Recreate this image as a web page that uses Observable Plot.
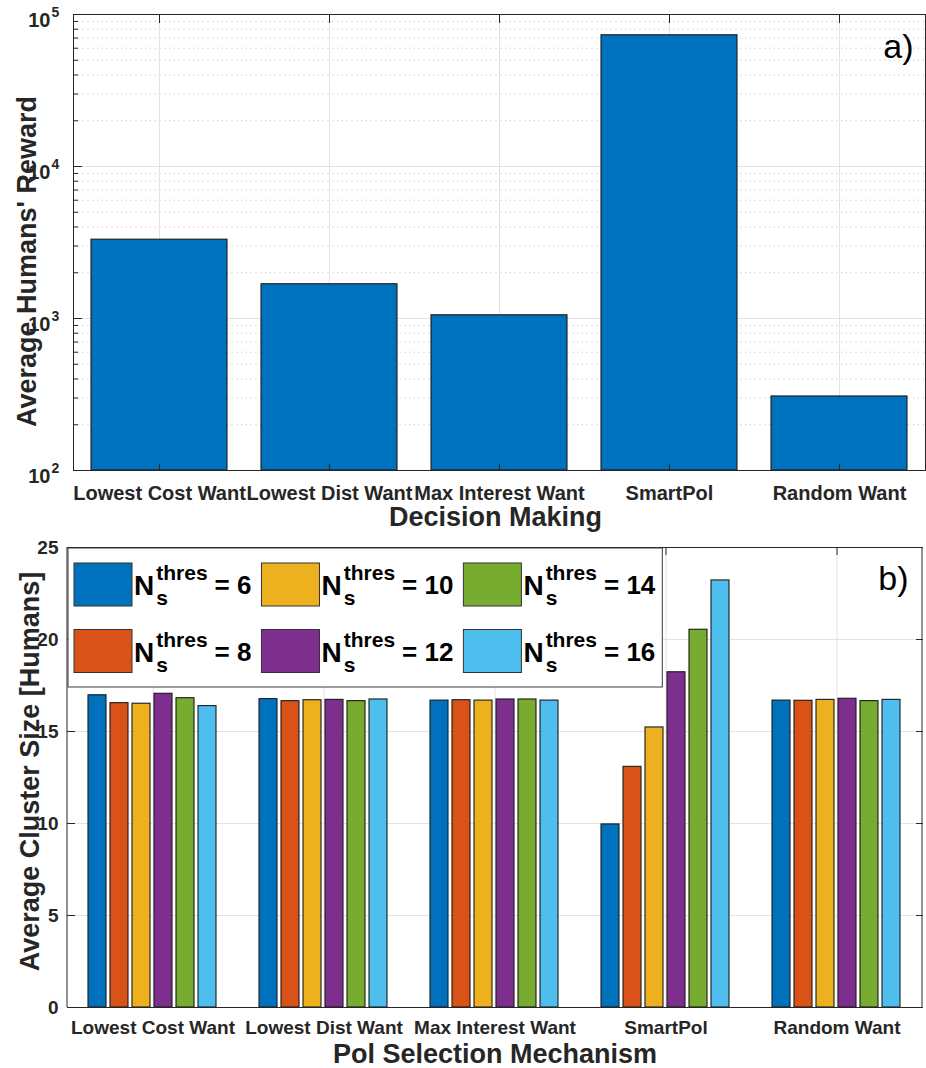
<!DOCTYPE html>
<html><head><meta charset="utf-8">
<script src="https://cdn.jsdelivr.net/npm/d3@7"></script>
<script src="https://cdn.jsdelivr.net/npm/@observablehq/plot@0.6"></script>
<style>
body{margin:0;background:#fff;}
#wrap{position:relative;width:926px;height:1068px;overflow:hidden;background:#fff;}
#wrap svg{display:block;}
</style></head><body><div id="wrap"></div>
<script>
// ---------- data ----------
const decisionCats = ["Lowest Cost Want", "Lowest Dist Want", "Max Interest Want", "SmartPol", "Random Want"];
const rewardValues = [3300, 1680, 1050, 73000, 307];
const rewardTicks = [100, 1000, 10000, 100000];
const rewardTickExponents = ["2", "3", "4", "5"];

const selectionCats = ["Lowest Cost Want", "Lowest Dist Want", "Max Interest Want", "SmartPol", "Random Want"];
const thresholds = [6, 8, 10, 12, 14, 16];
const clusterLowestCost  = [16.97, 16.54, 16.51, 17.05, 16.81, 16.38];
const clusterLowestDist  = [16.76, 16.65, 16.70, 16.72, 16.65, 16.74];
const clusterMaxInterest = [16.68, 16.70, 16.68, 16.74, 16.74, 16.68];
const clusterSmartPol    = [9.95, 13.08, 15.22, 18.22, 20.53, 23.21];
const clusterRandom      = [16.68, 16.67, 16.72, 16.78, 16.65, 16.72];
const clusterTicks = [0, 5, 10, 15, 20, 25];
const seriesColors = ["#0072BD", "#D95319", "#EDB120", "#7E2F8E", "#77AC30", "#4DBEEE"];

// ---------- styling ----------
const W = 926;
const FONT = "'Liberation Sans', Arial, Helvetica, sans-serif";
const axisColor = "#262626";
const gridColor = "#e2e2e2";
const wrap = document.getElementById("wrap");

// ---------- chart a ----------
const rewardData = decisionCats.map((c, i) => ({cat: c, value: rewardValues[i]}));
const minorTicks = [];
for (let e = 2; e < 5; e++) for (let m = 2; m < 10; m++) minorTicks.push(m * 10 ** e);

const topChart = Plot.plot({
  width: W, height: 530,
  marginLeft: 73, marginRight: 1, marginTop: 14, marginBottom: 60,
  style: {fontFamily: FONT, fontWeight: "bold", color: axisColor, background: "white", overflow: "visible"},
  x: {domain: decisionCats, paddingInner: 0.2, paddingOuter: 0.1, label: null},
  y: {type: "log", domain: [100, 100000], label: null},
  marks: [
    Plot.gridY(minorTicks, {stroke: "#c4c4c4", strokeOpacity: 1, strokeDasharray: "1.2,3.6"}),
    Plot.gridY(rewardTicks.slice(1, -1), {stroke: gridColor, strokeOpacity: 1}),
    Plot.gridX(decisionCats, {stroke: gridColor, strokeOpacity: 1}),
    Plot.barY(rewardData, {x: "cat", y1: 100, y2: "value", fill: seriesColors[0], stroke: "#1a1a1a", strokeWidth: 1.1}),
    Plot.axisX({anchor: "bottom", tickSize: 0, tickPadding: 15, fontSize: 20, label: null}),
    Plot.axisX({anchor: "top", tickSize: -8, tickFormat: () => "", label: null}),
    Plot.axisX({anchor: "bottom", tickSize: -6, tickFormat: () => "", label: null}),
    Plot.axisY(rewardTicks, {anchor: "left", tickSize: -9, tickFormat: () => "", label: null}),
    Plot.axisY(minorTicks, {anchor: "left", tickSize: -5, tickFormat: () => "", label: null}),
    Plot.text(rewardTicks, {y: d => d, frameAnchor: "left", text: () => "10", textAnchor: "end", dx: -23, dy: 6, fontSize: 20, fill: axisColor}),
    Plot.text(rewardTicks, {y: d => d, frameAnchor: "left", text: (d, i) => rewardTickExponents[i], textAnchor: "start", dx: -22, dy: -2, fontSize: 14, fill: axisColor}),
    Plot.text(["Average Humans' Reward"], {frameAnchor: "left", textAnchor: "middle", rotate: -90, lineAnchor: "bottom", dx: -38, dy: 19, fontSize: 27, fill: axisColor}),
    Plot.text(["Decision Making"], {frameAnchor: "bottom", textAnchor: "middle", lineAnchor: "top", dx: -4, dy: 36, fontSize: 27, fill: axisColor}),
    Plot.text(["a)"], {frameAnchor: "top-right", textAnchor: "end", lineAnchor: "top", dx: -12, dy: 19, fontSize: 34, fontWeight: "normal", fill: "#000"}),
    Plot.frame({stroke: axisColor})
  ]
});
wrap.appendChild(topChart);

// ---------- chart b ----------
const clusterSeries = [clusterLowestCost, clusterLowestDist, clusterMaxInterest, clusterSmartPol, clusterRandom];
const clusterData = [];
selectionCats.forEach((c, i) => clusterSeries[i].forEach((v, j) => clusterData.push({cat: c, thr: thresholds[j], value: v})));

const mL = 67, mR = 4, mT = 17, mB = 61, H2 = 538;
const bottomChart = Plot.plot({
  width: W, height: H2,
  marginLeft: mL, marginRight: mR, marginTop: mT, marginBottom: mB,
  style: {fontFamily: FONT, fontWeight: "bold", color: axisColor, background: "white", overflow: "visible"},
  fx: {domain: selectionCats, padding: 0, label: null},
  x: {domain: thresholds, paddingInner: 0.167, paddingOuter: 0.833, axis: null},
  y: {domain: [0, 25], label: null},
  color: {domain: thresholds, range: seriesColors},
  marks: [
    Plot.gridY([5, 10, 15, 20], {stroke: gridColor, strokeOpacity: 1}),
    Plot.gridFx({stroke: gridColor, strokeOpacity: 1}),
    Plot.barY(clusterData, {fx: "cat", x: "thr", y: "value", fill: "thr", stroke: "#1a1a1a", strokeWidth: 1.1}),
    Plot.axisFx({anchor: "bottom", tickSize: 0, tickPadding: 13, fontSize: 19, label: null}),
    Plot.axisFx({anchor: "top", tickSize: -7, tickFormat: () => "", label: null}),
    Plot.axisY(clusterTicks, {anchor: "left", tickSize: 0, tickPadding: 9, fontSize: 19, label: null}),
    Plot.axisY(clusterTicks, {anchor: "left", tickSize: -8, tickFormat: () => "", label: null}),
    Plot.axisY(clusterTicks, {anchor: "right", tickSize: -7, tickFormat: () => "", label: null}),
    Plot.ruleY([0, 25], {stroke: axisColor}),
    Plot.text(["Average Cluster Size [Humans]"], {fx: () => selectionCats[0], frameAnchor: "left", textAnchor: "middle", rotate: -90, lineAnchor: "bottom", dx: -29, dy: -6, fontSize: 27, fill: axisColor}),
    Plot.text(["Pol Selection Mechanism"], {fx: () => selectionCats[2], frameAnchor: "bottom", textAnchor: "middle", lineAnchor: "top", dy: 36, fontSize: 27, fill: axisColor}),
    Plot.text(["b)"], {fx: () => selectionCats[4], frameAnchor: "top-right", textAnchor: "end", lineAnchor: "top", dx: -14, dy: 18, fontSize: 34, fontWeight: "normal", fill: "#000"})
  ]
});
wrap.appendChild(bottomChart);

// left/right border lines of the plot frame (facets are contiguous)
const svgB = d3.select(bottomChart.tagName.toLowerCase() === "svg" ? bottomChart : bottomChart.querySelector("svg"));
[mL, W - mR].forEach(xp => {
  svgB.append("line").attr("x1", xp).attr("x2", xp).attr("y1", mT).attr("y2", H2 - mB)
    .attr("stroke", axisColor).attr("stroke-width", 1);
});

// ---------- legend (inside chart b) ----------
const lg = svgB.append("g").attr("font-family", FONT).attr("font-weight", "bold")
  .attr("fill", "#000").attr("text-anchor", "start");
const box = lg.append("rect").attr("x", mL + 1).attr("y", mT + 1).attr("height", 139)
  .attr("fill", "white").attr("stroke", "#3a3a3a").attr("stroke-width", 1);
let colX = 74, maxEnd = 0;
for (let col = 0; col < 3; col++) {
  let colEnd = colX;
  for (let row = 0; row < 2; row++) {
    const k = col * 2 + row;
    const y0 = 33 + row * 66.5;
    lg.append("rect").attr("x", colX).attr("y", y0).attr("width", 58).attr("height", 43)
      .attr("fill", seriesColors[k]).attr("stroke", "#333").attr("stroke-width", 1);
    const n = lg.append("text").attr("x", colX + 60).attr("y", y0 + 32).attr("font-size", 28).text("N");
    const nEnd = colX + 60 + n.node().getComputedTextLength();
    const sup = lg.append("text").attr("x", nEnd + 2).attr("y", y0 + 17).attr("font-size", 21).text("thres");
    lg.append("text").attr("x", nEnd + 2).attr("y", y0 + 42).attr("font-size", 21).text("s");
    const supEnd = nEnd + 2 + sup.node().getComputedTextLength();
    const eq = lg.append("text").attr("x", supEnd + 7).attr("y", y0 + 31).attr("font-size", 26).text("= " + thresholds[k]);
    const end = supEnd + 7 + eq.node().getComputedTextLength();
    colEnd = Math.max(colEnd, end);
  }
  maxEnd = Math.max(maxEnd, colEnd);
  colX = colEnd + 10;
}
box.attr("width", maxEnd + 7 - (mL + 1));
</script></body></html>
